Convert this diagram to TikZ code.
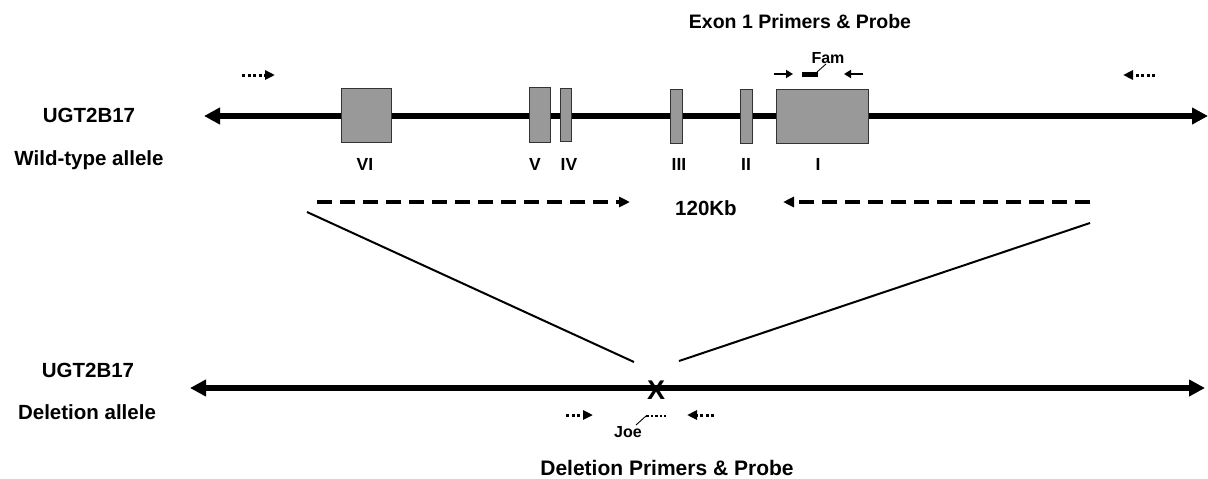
\documentclass[tikz,border=0pt]{standalone}
\usepackage{fontspec}
\setmainfont{Liberation Sans}
\usetikzlibrary{arrows.meta}
\definecolor{exonfill}{HTML}{999999}
\definecolor{exonedge}{HTML}{333333}
\tikzset{
  biglbl/.style={font=\bfseries\fontsize{20.5}{24}\selectfont, anchor=base, inner sep=0pt},
  numlbl/.style={font=\bfseries\fontsize{17.5}{21}\selectfont, anchor=base, inner sep=0pt},
  smalllbl/.style={font=\bfseries\fontsize{16}{19}\selectfont, anchor=base, inner sep=0pt},
  exon/.style={draw=exonedge, fill=exonfill, line width=1pt, inner sep=0pt},
  chrom/.style={line width=6.5pt, {Triangle[length=16pt,width=16pt]}-{Triangle[length=16pt,width=16pt]}},
  dasharrow/.style={line width=3.5pt, dash pattern=on 15pt off 8pt, -{Triangle[length=11pt,width=10pt]}},
  dotarrow/.style={line width=3pt, dash pattern=on 3pt off 2.5pt, -{Triangle[length=10pt,width=9pt]}},
  primer/.style={line width=2.5pt, -{Triangle[length=7pt,width=8pt]}},
  slant/.style={line width=2pt},
  leader/.style={line width=0.9pt},
}
\begin{document}
\begin{tikzpicture}[x=1pt,y=-1pt]
\useasboundingbox (0,0) rectangle (1208,479);

% ---------- wild-type allele ----------
\coordinate (wtL) at (204,116);
\coordinate (wtR) at (1208,116);
\draw[chrom] (wtL) -- (wtR);

\node[exon, minimum width=50pt, minimum height=54pt] (e6) at (366,115) {};
\node[exon, minimum width=21pt, minimum height=55pt] (e5) at (539.5,114.5) {};
\node[exon, minimum width=11pt, minimum height=53pt] (e4) at (565.5,114.5) {};
\node[exon, minimum width=12pt, minimum height=54pt] (e3) at (676,116) {};
\node[exon, minimum width=12pt, minimum height=54pt] (e2) at (746,116) {};
\node[exon, minimum width=92pt, minimum height=54pt] (e1) at (822,116) {};

\node[numlbl] (l6) at (365,170) {VI};
\node[numlbl] (l5) at (535,170) {V};
\node[numlbl] (l4) at (569,170) {IV};
\node[numlbl] (l3) at (679,170) {III};
\node[numlbl] (l2) at (746,170) {II};
\node[numlbl] (l1) at (818,170) {I};

\node[biglbl] (wtname) at (89,122) {UGT2B17};
\node[biglbl] (wtallele) at (89,165) {Wild-type allele};

\node[biglbl, font=\bfseries\fontsize{19.5}{23}\selectfont] (extitle) at (800,28) {Exon 1 Primers \& Probe};

% exon 1 primers and probe
\coordinate (pf1) at (774,74); \coordinate (pf2) at (793,74);
\coordinate (pr1) at (863,74); \coordinate (pr2) at (844,74);
\draw[primer] (pf1) -- (pf2);
\draw[primer] (pr1) -- (pr2);
\coordinate (fam1) at (802,74); \coordinate (fam2) at (818,74);
\draw[line width=5pt] (fam1) -- (fam2);
\node[smalllbl] (famlbl) at (828,63) {Fam};
\coordinate (famstart) at (817,72);
\coordinate (famlead) at (826,64);
\draw[leader] (famstart) -- (famlead);

% outer primers (wild type)
\coordinate (dwl1) at (242,75); \coordinate (dwl2) at (275,75);
\coordinate (dwr1) at (1155,75); \coordinate (dwr2) at (1123,75);
\draw[dotarrow] (dwl1) -- (dwl2);
\draw[dotarrow] (dwr1) -- (dwr2);

% 120 Kb span
\coordinate (dl1) at (317,202); \coordinate (dl2) at (630,202);
\coordinate (dr1) at (1090,202); \coordinate (dr2) at (783,202);
\draw[dasharrow] (dl1) -- (dl2);
\draw[dasharrow] (dr1) -- (dr2);
\node[biglbl] (kb) at (706,215) {120Kb};

% converging lines
\coordinate (sl1) at (307,212); \coordinate (sl2) at (634,362);
\coordinate (sr1) at (1090,223); \coordinate (sr2) at (679,361);
\draw[slant] (sl1) -- (sl2);
\draw[slant] (sr1) -- (sr2);

% ---------- deletion allele ----------
\coordinate (dlL) at (190,388);
\coordinate (dlR) at (1205,388);
\draw[chrom] (dlL) -- (dlR);
\node[font=\bfseries\fontsize{27}{30}\selectfont, inner sep=0pt] (xmark) at (656,390) {X};

\node[biglbl] (delname) at (88,377) {UGT2B17};
\node[biglbl] (delallele) at (87,419) {Deletion allele};

\coordinate (db1) at (566,415); \coordinate (db2) at (593,415);
\coordinate (db3) at (714,415); \coordinate (db4) at (687,415);
\draw[dotarrow] (db1) -- (db2);
\draw[dotarrow] (db3) -- (db4);
\coordinate (joe1) at (646,416); \coordinate (joe2) at (666,416);
\draw[line width=2pt, dash pattern=on 2.5pt off 2pt] (joe1) -- (joe2);
\node[smalllbl] (joelbl) at (628,437) {Joe};
\coordinate (joelead) at (636,425);
\draw[leader] (joelead) -- (joe1);

\node[biglbl, font=\bfseries\fontsize{21}{25}\selectfont] (deltitle) at (667,475) {Deletion Primers \& Probe};
\end{tikzpicture}
\end{document}
